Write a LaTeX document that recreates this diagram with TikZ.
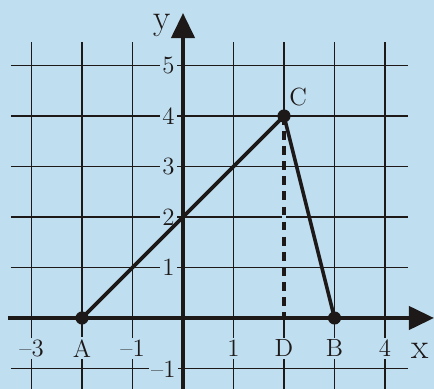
\documentclass[tikz,border=0pt]{standalone}
\usetikzlibrary{arrows.meta}
\definecolor{bgblue}{RGB}{191,223,241}
\definecolor{ink}{RGB}{30,25,25}
\begin{document}
\begin{tikzpicture}[x=1cm, y=1cm,
  grid line/.style={ink, line width=0.95pt},
  axis/.style={ink, line width=2.3pt, -{Triangle[length=5mm, width=4.6mm]}},
  tick label/.style={fill=bgblue, inner sep=1.2pt, text=ink, font=\fontsize{14}{14}\selectfont},
  seg/.style={ink, line width=2pt},
  dot/.style={circle, fill=ink, inner sep=0pt, minimum size=2.6mm}]
  \fill[bgblue] (-3.624,-1.406) rectangle (4.970,6.297);
  \useasboundingbox (-3.624,-1.406) rectangle (4.970,6.297);

  % grid
  \foreach \x in {-3,-2,-1,1,2,3,4}
    \draw[grid line] (\x,-1.45) -- (\x,5.47);
  \foreach \y in {-1,1,2,3,4,5}
    \draw[grid line] (-3.41,\y) -- (4.46,\y);

  % tick labels
  \node[tick label] (xm3) at (-3,-0.6) {\textendash3};
  \node[tick label] (xA) at (-2,-0.6) {A};
  \node[tick label] (xm1) at (-1,-0.6) {\textendash1};
  \node[tick label] (x1) at (1,-0.6) {1};
  \node[tick label] (xD) at (2,-0.6) {D};
  \node[tick label] (xB) at (3,-0.6) {B};
  \node[tick label] (x4) at (4,-0.6) {4};
  \node[tick label, anchor=east] (ym1) at (-0.1,-1.02) {\textendash1};
  \node[tick label, anchor=east] (y1) at (-0.12,1) {1};
  \node[tick label, anchor=east] (y2) at (-0.12,2) {2};
  \node[tick label, anchor=east] (y3) at (-0.12,3) {3};
  \node[tick label, anchor=east] (y4) at (-0.12,4) {4};
  \node[tick label, anchor=east] (y5) at (-0.12,5) {5};

  % axes
  \coordinate (xstart) at (-3.47,0);
  \coordinate (xend) at (4.97,0);
  \coordinate (ystart) at (0,-1.45);
  \coordinate (yend) at (0,6.04);
  \draw[axis] (xstart) -- (xend);
  \draw[axis] (ystart) -- (yend);
  \node[text=ink, font=\fontsize{20}{20}\selectfont] (xlabel) at (4.69,-0.66) {x};
  \node[text=ink, font=\fontsize{20}{20}\selectfont] (ylabel) at (-0.42,5.8) {y};

  % triangle
  \coordinate (A) at (-2,0);
  \coordinate (B) at (3,0);
  \coordinate (C) at (2,4);
  \coordinate (D) at (2,0);
  \draw[bgblue, line width=2.6pt] (C) -- (D);
  \draw[ink, line width=2.2pt, dash pattern=on 5pt off 3.5pt] (C) -- (D);
  \draw[seg, line join=round] (A) -- (C) -- (B);
  \node[dot] (Adot) at (A) {};
  \node[dot] (Bdot) at (B) {};
  \node[dot] (Cdot) at (C) {};
  \node[text=ink, font=\fontsize{14}{14}\selectfont] (Clabel) at (2.28,4.38) {C};
\end{tikzpicture}
\end{document}
